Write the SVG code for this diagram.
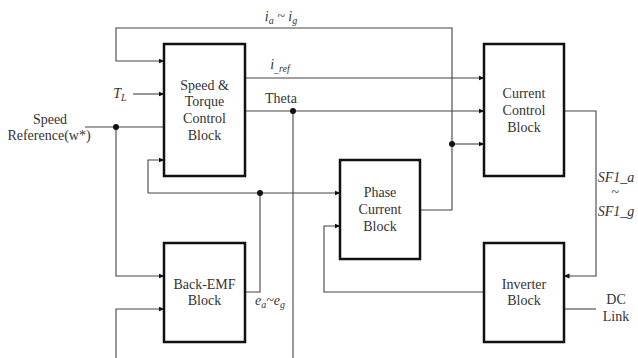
<svg xmlns="http://www.w3.org/2000/svg" width="638" height="358" viewBox="0 0 638 358">
<style>
.blk{fill:#fff;stroke:#111;stroke-width:2.5}
.ln{fill:none;stroke:#444;stroke-width:1.1}
.t{font-family:"Liberation Serif","Times New Roman",serif;font-size:14px;fill:#333;text-anchor:middle}
.it{font-style:italic}
.sub{font-size:10px}
.dot{fill:#111}
</style>
<defs>
<marker id="ar" markerWidth="6" markerHeight="6" refX="5.5" refY="3" orient="auto" markerUnits="userSpaceOnUse">
<path d="M0,0.5 L6,3 L0,5.5 Z" fill="#111"/>
</marker>
</defs>
<rect width="638" height="358" fill="#fff"/>
<g id="connectors">
<path class="ln" d="M420,210 H452 V28 H116 V61 H164" marker-end="url(#ar)"/>
<path class="ln" d="M452,144 H484" marker-end="url(#ar)"/>
<path class="ln" d="M245,78 H484" marker-end="url(#ar)"/>
<path class="ln" d="M245,111 H484" marker-end="url(#ar)"/>
<path class="ln" d="M293,111 V358"/>
<path class="ln" d="M85,127 H164"/>
<path class="ln" d="M116,127 V276 H164" marker-end="url(#ar)"/>
<path class="ln" d="M133,94 H164" marker-end="url(#ar)"/>
<path class="ln" d="M245,292 H260 V193"/>
<path class="ln" d="M148,193 V160 H164" marker-end="url(#ar)"/>
<path class="ln" d="M148,193 H340" marker-end="url(#ar)"/>
<path class="ln" d="M116,358 V309 H164" marker-end="url(#ar)"/>
<path class="ln" d="M564,111 H596 V276 H564" marker-end="url(#ar)"/>
<path class="ln" d="M484,292 H324 V226 H340" marker-end="url(#ar)"/>
<path class="ln" d="M564,309 H596"/>
<circle class="dot" cx="452" cy="144" r="3"/>
<circle class="dot" cx="293" cy="111" r="3"/>
<circle class="dot" cx="116" cy="127" r="3"/>
<circle class="dot" cx="260" cy="193" r="3"/>
</g>
<g id="labels">
<text class="t it" x="281" y="21">i<tspan class="sub" dy="3">a</tspan><tspan dy="-3"> ~ i</tspan><tspan class="sub" dy="3">g</tspan></text>
<text class="t it" x="280" y="69">i<tspan class="sub" dy="3">_ref</tspan></text>
<text class="t" x="281" y="103">Theta</text>
<text class="t it" x="120" y="98">T<tspan class="sub" dy="3">L</tspan></text>
<text class="t" x="50" y="124">Speed</text>
<text class="t" x="49" y="140">Reference(w*)</text>
<text class="t it" x="270" y="305">e<tspan class="sub" dy="3">a</tspan><tspan dy="-3">~e</tspan><tspan class="sub" dy="3">g</tspan></text>
<text class="t it" x="616" y="182">SF1_a</text>
<text class="t it" x="615" y="197">~</text>
<text class="t it" x="616" y="216">SF1_g</text>
<text class="t" x="616" y="304">DC</text>
<text class="t" x="616" y="321">Link</text>
</g>
<g id="speed-torque">
<rect class="blk" x="164" y="44" width="81" height="132"/>
<text class="t" x="204.5" y="90">Speed &amp;</text>
<text class="t" x="204.5" y="106">Torque</text>
<text class="t" x="204.5" y="123">Control</text>
<text class="t" x="204.5" y="140">Block</text>
</g>
<g id="current-control">
<rect class="blk" x="484" y="44" width="80" height="132"/>
<text class="t" x="524" y="98">Current</text>
<text class="t" x="524" y="115">Control</text>
<text class="t" x="524" y="132">Block</text>
</g>
<g id="phase-current">
<rect class="blk" x="340" y="160" width="80" height="99"/>
<text class="t" x="380" y="197">Phase</text>
<text class="t" x="380" y="214">Current</text>
<text class="t" x="380" y="231">Block</text>
</g>
<g id="back-emf">
<rect class="blk" x="164" y="243" width="81" height="99"/>
<text class="t" x="204.5" y="289">Back-EMF</text>
<text class="t" x="204.5" y="305">Block</text>
</g>
<g id="inverter">
<rect class="blk" x="484" y="243" width="80" height="99"/>
<text class="t" x="524" y="289">Inverter</text>
<text class="t" x="524" y="305">Block</text>
</g>
</svg>
